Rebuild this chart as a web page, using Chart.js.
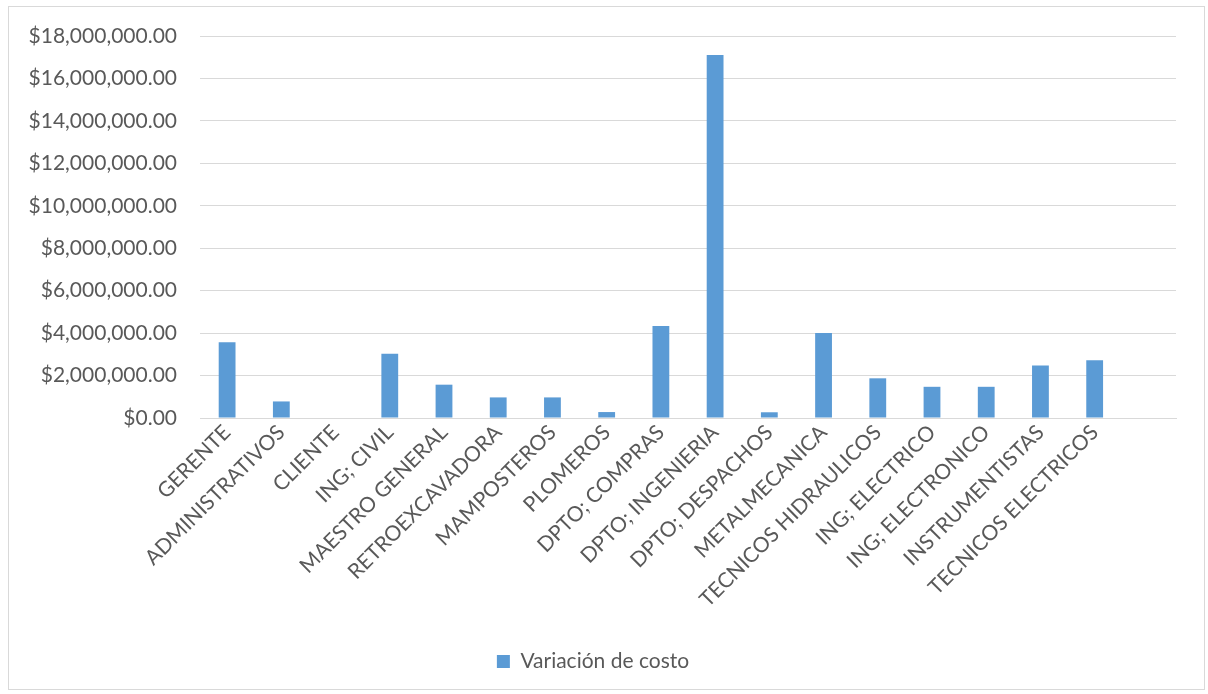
<!DOCTYPE html>
<html>
<head>
<meta charset="utf-8">
<script src="https://cdn.jsdelivr.net/npm/chart.js@4"></script>
<style>
  body { margin: 0; background: #fff; }
  #wrap { position: absolute; left: 0; top: 0; width: 1208px; height: 694px; }
  #frame { position: absolute; left: 8px; top: 6px; width: 1197px; height: 684px; border: 1px solid #d9d9d9; box-sizing: border-box; }
</style>
</head>
<body>
<div id="wrap">
  <div id="frame"></div>
  <canvas id="myChart" width="1208" height="694"></canvas>
</div>
<script>
// the last category is blank in the source sheet (empty slot on the right)
const categories = [
  "GERENTE", "ADMINISTRATIVOS", "CLIENTE", "ING; CIVIL", "MAESTRO GENERAL",
  "RETROEXCAVADORA", "MAMPOSTEROS", "PLOMEROS", "DPTO; COMPRAS", "DPTO; INGENIERIA",
  "DPTO; DESPACHOS", "METALMECANICA", "TECNICOS HIDRAULICOS", "ING; ELECTRICO",
  "ING; ELECTRONICO", "INSTRUMENTISTAS", "TECNICOS ELECTRICOS", ""
];

// Variación de costo
const costVariation = [
  3570000, 780000, 0, 3030000, 1570000,
  970000, 970000, 280000, 4330000, 17100000,
  270000, 4000000, 1870000, 1470000,
  1470000, 2470000, 2720000, null
];

const seriesName = "Variación de costo";
const yMin = 0, yMax = 18000000, yStep = 2000000;

const ctx = document.getElementById("myChart");
const font = { family: "Lato", size: 21 };
const textColor = "#595959";

function money(v) {
  return "$" + v.toLocaleString("en-US", { minimumFractionDigits: 2, maximumFractionDigits: 2 });
}

const chart = new Chart(ctx, {
  type: "bar",
  data: {
    labels: categories,
    datasets: [
      {
        label: seriesName,
        data: costVariation,
        backgroundColor: "#5B9BD5",
        borderWidth: 0,
        barPercentage: 0.31,
        categoryPercentage: 1,
      },
    ],
  },
  options: {
    responsive: false,
    animation: false,
    layout: { padding: { top: 36, left: 10, right: 32, bottom: 12 } },
    plugins: {
      tooltip: { enabled: false },
      legend: {
        position: "bottom",
        labels: {
          color: textColor,
          font: font,
          boxWidth: 13,
          boxHeight: 13,
          padding: 10,
        },
      },
    },
    scales: {
      y: {
        min: yMin,
        max: yMax,
        ticks: {
          stepSize: yStep,
          color: textColor,
          font: font,
          padding: 23,
          callback: (v) => money(v),
        },
        grid: { color: "#d9d9d9", lineWidth: 1, drawTicks: false },
        border: { display: false },
        afterFit: (scale) => { scale.width = 190; },
      },
      x: {
        ticks: {
          color: textColor,
          font: font,
          maxRotation: 45,
          minRotation: 45,
          autoSkip: false,
          padding: 2,
        },
        grid: { display: false, drawTicks: false },
        border: { color: "#d9d9d9", width: 1 },
        afterFit: (scale) => { scale.height = 223; },
      },
    },
  },
});
</script>
</body>
</html>
